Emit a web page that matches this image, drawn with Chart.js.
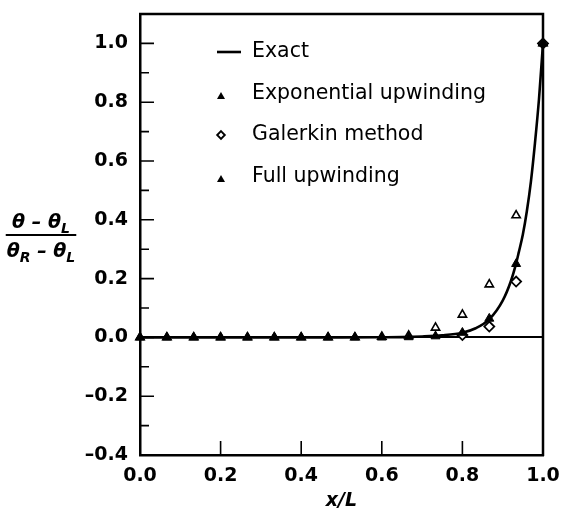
<!DOCTYPE html>
<html>
<head>
<meta charset="utf-8">
<script src="https://cdn.jsdelivr.net/npm/chart.js@4.4.1/dist/chart.umd.min.js"></script>
<style>
  html, body { margin: 0; padding: 0; background: #fff; }
  #wrap { width: 568px; height: 518px; }
</style>
</head>
<body>
<div id="wrap"><canvas id="chartId" width="568" height="518"></canvas></div>
<script>
// node positions x/L (15 elements) and the nodal values
const nodeX = [0, 0.0667, 0.1333, 0.2, 0.2667, 0.3333, 0.4, 0.4667, 0.5333, 0.6, 0.6667, 0.7333, 0.8, 0.8667, 0.9333, 1.0];
const expUpwind = [0, 0, 0, 0, 0, 0, 0, 0, 0, 0, 0.001, 0.004, 0.016, 0.064, 0.25, 1.0];
const galerkin = [null, null, null, null, null, null, null, null, null, null, null, null, 0.008, 0.037, 0.19, 1.0];
const fullUpwind = [0, 0, 0, 0, 0, 0, 0, 0, 0, 0.002, 0.006, 0.033, 0.077, 0.18, 0.415, 1.0];

// exact solution, sampled along the drawn curve
const exactX = [0, 0.1, 0.2, 0.3, 0.4, 0.5, 0.6, 0.65, 0.7, 0.75, 0.8, 0.833, 0.867, 0.9, 0.92, 0.933, 0.94, 0.95, 0.96, 0.97, 0.98, 0.99, 1.0];
const exactY = [0, 0, 0, 0, 0, 0, 0.0005, 0.001, 0.003, 0.007, 0.016, 0.031, 0.062, 0.125, 0.19, 0.25, 0.29, 0.35, 0.43, 0.53, 0.66, 0.81, 1.0];

const xTicks = [0, 0.2, 0.4, 0.6, 0.8, 1.0];
const yTicks = [-0.4, -0.2, 0, 0.2, 0.4, 0.6, 0.8, 1.0];
const yMinorTicks = [-0.3, -0.1, 0.1, 0.3, 0.5, 0.7, 0.9];

const toPoints = (xs, ys) => xs.map((x, i) => ({ x: x, y: ys[i] }));

const FONT = '"DejaVu Sans", "Liberation Sans", sans-serif';

// legend rows (text y centres) inside the plot
const legendLayout = { symbolX: 221, textX: 252, rows: [52, 94, 135, 177] };

function drawParts(ctx, parts, cx, baseline) {
    // parts: [{t, sub}] -> centred run of text with subscripts
    const main = 'italic bold 19px ' + FONT;
    const small = 'italic bold 14px ' + FONT;
    let w = 0;
    parts.forEach(p => { ctx.font = p.sub ? small : main; w += ctx.measureText(p.t).width; });
    let x = cx - w / 2;
    ctx.textAlign = 'left';
    ctx.textBaseline = 'alphabetic';
    parts.forEach(p => {
        ctx.font = p.sub ? small : main;
        ctx.fillText(p.t, x, baseline + (p.sub ? 5 : 0));
        x += ctx.measureText(p.t).width;
    });
    return w;
}

const framePlugin = {
    id: 'frame',
    afterDraw(chart) {
        const { ctx, chartArea: a, scales: { x, y } } = chart;
        ctx.save();
        ctx.strokeStyle = '#000';
        ctx.fillStyle = '#000';

        // top and right edges of the box
        ctx.lineWidth = 2.5;
        ctx.beginPath();
        ctx.moveTo(a.left - 1, a.top);
        ctx.lineTo(a.right, a.top);
        ctx.lineTo(a.right, a.bottom + 1);
        ctx.stroke();

        // tick marks pointing inwards
        ctx.lineWidth = 1.6;
        ctx.beginPath();
        yTicks.forEach(v => {
            const py = y.getPixelForValue(v);
            ctx.moveTo(a.left, py); ctx.lineTo(a.left + 14, py);
        });
        yMinorTicks.forEach(v => {
            const py = y.getPixelForValue(v);
            ctx.moveTo(a.left, py); ctx.lineTo(a.left + 9, py);
        });
        xTicks.forEach(v => {
            if (v <= x.min || v >= x.max) return;
            const px = x.getPixelForValue(v);
            ctx.moveTo(px, a.bottom); ctx.lineTo(px, a.bottom - 14);
        });
        ctx.stroke();

        // legend
        ctx.font = '20.5px ' + FONT;
        ctx.textAlign = 'left';
        ctx.textBaseline = 'middle';
        chart.data.datasets.forEach((ds, i) => {
            const ry = legendLayout.rows[i];
            const sx = legendLayout.symbolX;
            if (ds.legendSymbol === 'line') {
                ctx.lineWidth = 2.6;
                ctx.beginPath();
                ctx.moveTo(sx - 4, ry); ctx.lineTo(sx + 20, ry);
                ctx.stroke();
            } else if (ds.legendSymbol === 'triangle') {
                ctx.beginPath();
                ctx.moveTo(sx, ry - 2);
                ctx.lineTo(sx + 4, ry + 5);
                ctx.lineTo(sx - 4, ry + 5);
                ctx.closePath();
                ctx.fill();
            } else if (ds.legendSymbol === 'diamond') {
                ctx.lineWidth = 1.9;
                ctx.beginPath();
                ctx.moveTo(sx, ry - 3.8);
                ctx.lineTo(sx + 3.8, ry);
                ctx.lineTo(sx, ry + 3.8);
                ctx.lineTo(sx - 3.8, ry);
                ctx.closePath();
                ctx.stroke();
            }
            ctx.fillText(ds.label, legendLayout.textX, ry);
        });

        // y axis title as a fraction
        const cx = 41;
        const wTop = drawParts(ctx, [{ t: 'θ – θ' }, { t: 'L', sub: true }], cx, 228);
        const wBot = drawParts(ctx, [{ t: 'θ' }, { t: 'R', sub: true }, { t: ' – θ' }, { t: 'L', sub: true }], cx, 257);
        const wl = Math.max(wTop, wBot) + 2;
        ctx.lineWidth = 2;
        ctx.beginPath();
        ctx.moveTo(cx - wl / 2, 235); ctx.lineTo(cx + wl / 2, 235);
        ctx.stroke();

        ctx.restore();
    }
};

const ctx = document.getElementById('chartId').getContext('2d');
new Chart(ctx, {
    type: 'scatter',
    data: {
        datasets: [
            {
                label: 'Exact',
                legendSymbol: 'line',
                type: 'line',
                data: toPoints(exactX, exactY),
                borderColor: '#000',
                borderWidth: 2.6,
                pointRadius: 0,
                cubicInterpolationMode: 'monotone',
                fill: false,
                clip: false,
                order: 4
            },
            {
                label: 'Exponential upwinding',
                legendSymbol: 'triangle',
                data: toPoints(nodeX, expUpwind),
                pointStyle: 'triangle',
                pointRadius: 5.2,
                backgroundColor: '#000',
                borderColor: '#000',
                borderWidth: 1,
                clip: false,
                order: 1
            },
            {
                label: 'Galerkin method',
                legendSymbol: 'diamond',
                data: toPoints(nodeX, galerkin),
                pointStyle: 'rectRot',
                pointRadius: 5,
                backgroundColor: '#fff',
                borderColor: '#000',
                borderWidth: 1.8,
                clip: false,
                order: 3
            },
            {
                label: 'Full upwinding',
                legendSymbol: 'triangle',
                data: toPoints(nodeX, fullUpwind),
                pointStyle: 'triangle',
                pointRadius: 4.8,
                backgroundColor: '#fff',
                borderColor: '#000',
                borderWidth: 1.6,
                clip: false,
                order: 2
            }
        ]
    },
    options: {
        responsive: false,
        animation: false,
        devicePixelRatio: 1,
        layout: { padding: { left: 0, right: 25, top: 14, bottom: 0 } },
        plugins: {
            legend: { display: false },
            tooltip: { enabled: false }
        },
        scales: {
            x: {
                type: 'linear',
                min: 0,
                max: 1.0,
                afterBuildTicks: s => { s.ticks = xTicks.map(v => ({ value: v })); },
                afterFit: s => { s.height = 63; s.paddingLeft = 0; s.paddingRight = 0; },
                grid: { color: 'rgba(0,0,0,0)', drawTicks: false },
                border: { color: '#000', width: 2.5 },
                ticks: {
                    padding: 10,
                    color: '#000',
                    font: { family: FONT, size: 19, weight: 'bold' },
                    callback: v => v.toFixed(1)
                },
                title: {
                    display: true,
                    text: 'x/L',
                    color: '#000',
                    font: { family: FONT, size: 19, weight: 'bold', style: 'italic' },
                    padding: { top: 0, bottom: 6 }
                }
            },
            y: {
                type: 'linear',
                min: -0.4,
                max: 1.1,
                afterBuildTicks: s => { s.ticks = yTicks.map(v => ({ value: v })); },
                afterFit: s => { s.width = 140; s.paddingTop = 0; s.paddingBottom = 0; },
                grid: {
                    drawTicks: false,
                    lineWidth: 2,
                    color: c => (c.tick && Math.abs(c.tick.value) < 1e-9) ? '#000' : 'rgba(0,0,0,0)'
                },
                border: { color: '#000', width: 2.5 },
                ticks: {
                    padding: 12,
                    color: '#000',
                    font: { family: FONT, size: 19, weight: 'bold' },
                    callback: v => (v < 0 ? '–' : '') + Math.abs(v).toFixed(1)
                }
            }
        }
    },
    plugins: [framePlugin]
});
</script>
</body>
</html>
